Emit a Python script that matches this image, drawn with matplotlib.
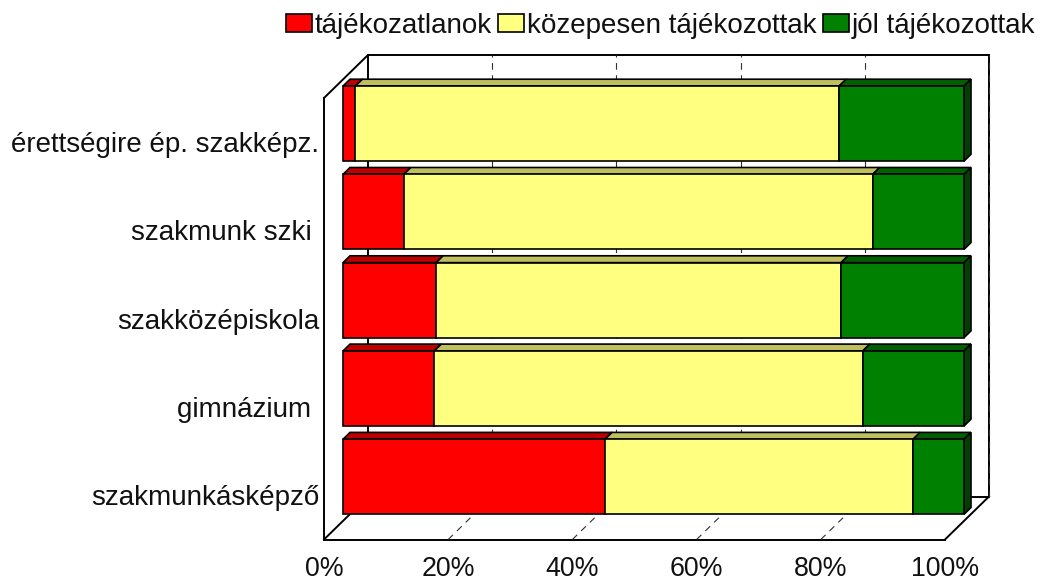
import numpy as np
import matplotlib
matplotlib.use("Agg")
import matplotlib.pyplot as plt
from matplotlib.patches import Polygon, Patch

plt.rcParams['font.family'] = ['Liberation Sans', 'DejaVu Sans']

categories = ["szakmunkásképző", "gimnázium ", "szakközépiskola", "szakmunk szki ", "érettségire ép. szakképz."]
series_names = ["tájékozatlanok", "közepesen tájékozottak", "jól tájékozottak"]
low = [42.2, 14.7, 15.0, 9.8, 2.0]
mid = [49.6, 69.0, 65.2, 75.5, 77.9]
high = [8.2, 16.3, 19.8, 14.7, 20.1]
x_ticks = [0, 20, 40, 60, 80, 100]
x_labels = ["0%", "20%", "40%", "60%", "80%", "100%"]

W, H = 1043, 581
fig = plt.figure(figsize=(W / 100, H / 100), dpi=100)
L, R, B, T = 324, 945, 539.5, 98
ax = fig.add_axes([L / W, 1 - B / H, (R - L) / W, (B - T) / H])
ax.set_xlim(0, 100)
ax.set_ylim(0, 5)
for s in ax.spines.values():
    s.set_visible(False)
ax.patch.set_alpha(0)

px_x = 100 / (R - L)
px_y = 5 / (B - T)
DX = 44 * px_x
DY = 43 * px_y


def P(x, y, d=0.0):
    return (x + d * DX, y + d * DY)


wall = dict(color="black", lw=1.4, zorder=1, clip_on=False, solid_capstyle="projecting")
frame = [
    [P(0, 0), P(0, 5)],
    [P(0, 5), P(0, 5, 1)],
    [P(0, 5, 1), P(100, 5, 1)],
    [P(0, 0, 1), P(0, 5, 1)],
    [P(100, 0, 1), P(100, 5, 1)],
    [P(0, 0, 1), P(100, 0, 1)],
    [P(0, 0), P(100, 0)],
    [P(0, 0), P(0, 0, 1)],
    [P(100, 0), P(100, 0, 1)],
]
for a, b in frame:
    ax.plot([a[0], b[0]], [a[1], b[1]], **wall)

grid = dict(color="#303030", lw=0.8, dashes=(6, 5), zorder=1.5, clip_on=False)
for t in x_ticks[1:]:
    a, b, c = P(t, 0), P(t, 0, 1), P(t, 5, 1)
    if t < 100:
        ax.plot([a[0], b[0]], [a[1], b[1]], **grid)
    ax.plot([b[0], c[0]], [b[1], c[1]], **grid)

face = ["#FF0000", "#FFFF80", "#008000"]
top = ["#BF0000", "#BFBF60", "#006000"]
side = ["#7F0000", "#7F7F40", "#004000"]
d0, d1 = 19 / 44, 26 / 44
bar_h = 75 / 88.2
rows = np.arange(len(categories)) + 0.5
edge = dict(edgecolor="black", linewidth=1.2, clip_on=False)

lefts = np.zeros(len(categories))
for i, vals in enumerate([low, mid, high]):
    vals = np.array(vals)
    ox, oy = P(0, 0, d0)
    ax.barh(rows + oy, vals, height=bar_h, left=lefts + ox, color=face[i], zorder=3,
            label=series_names[i], **edge)
    for y, l, v in zip(rows, lefts, vals):
        y_top = y + bar_h / 2
        ax.add_patch(Polygon([P(l, y_top, d0), P(l + v, y_top, d0), P(l + v, y_top, d1), P(l, y_top, d1)],
                             closed=True, facecolor=top[i], zorder=2.5, **edge))
        if i == 2:
            yb = y - bar_h / 2
            ax.add_patch(Polygon([P(l + v, yb, d0), P(l + v, yb, d1), P(l + v, y_top, d1), P(l + v, y_top, d0)],
                                 closed=True, facecolor=side[i], zorder=2.5, **edge))
    lefts = lefts + vals

ax.set_xticks(x_ticks, x_labels, fontsize=19.3, color="#111111")
ax.set_yticks(rows, categories, fontsize=20, color="#111111")
ax.tick_params(axis="both", length=0)
ax.tick_params(axis="x", pad=12)
ax.tick_params(axis="y", pad=3.5)

handles = [Patch(facecolor=face[i], edgecolor="black", linewidth=1.2, label=series_names[i]) for i in range(3)]
fig.legend(handles=handles, ncol=3, loc="upper left", bbox_to_anchor=(286 / W, 1 - 13 / H),
           frameon=False, fontsize=20, handlelength=0.94, handleheight=0.61, handletextpad=0.08,
           columnspacing=0.24, borderpad=0, borderaxespad=0, labelcolor="#111111")

fig.savefig("out.png", dpi=100)
